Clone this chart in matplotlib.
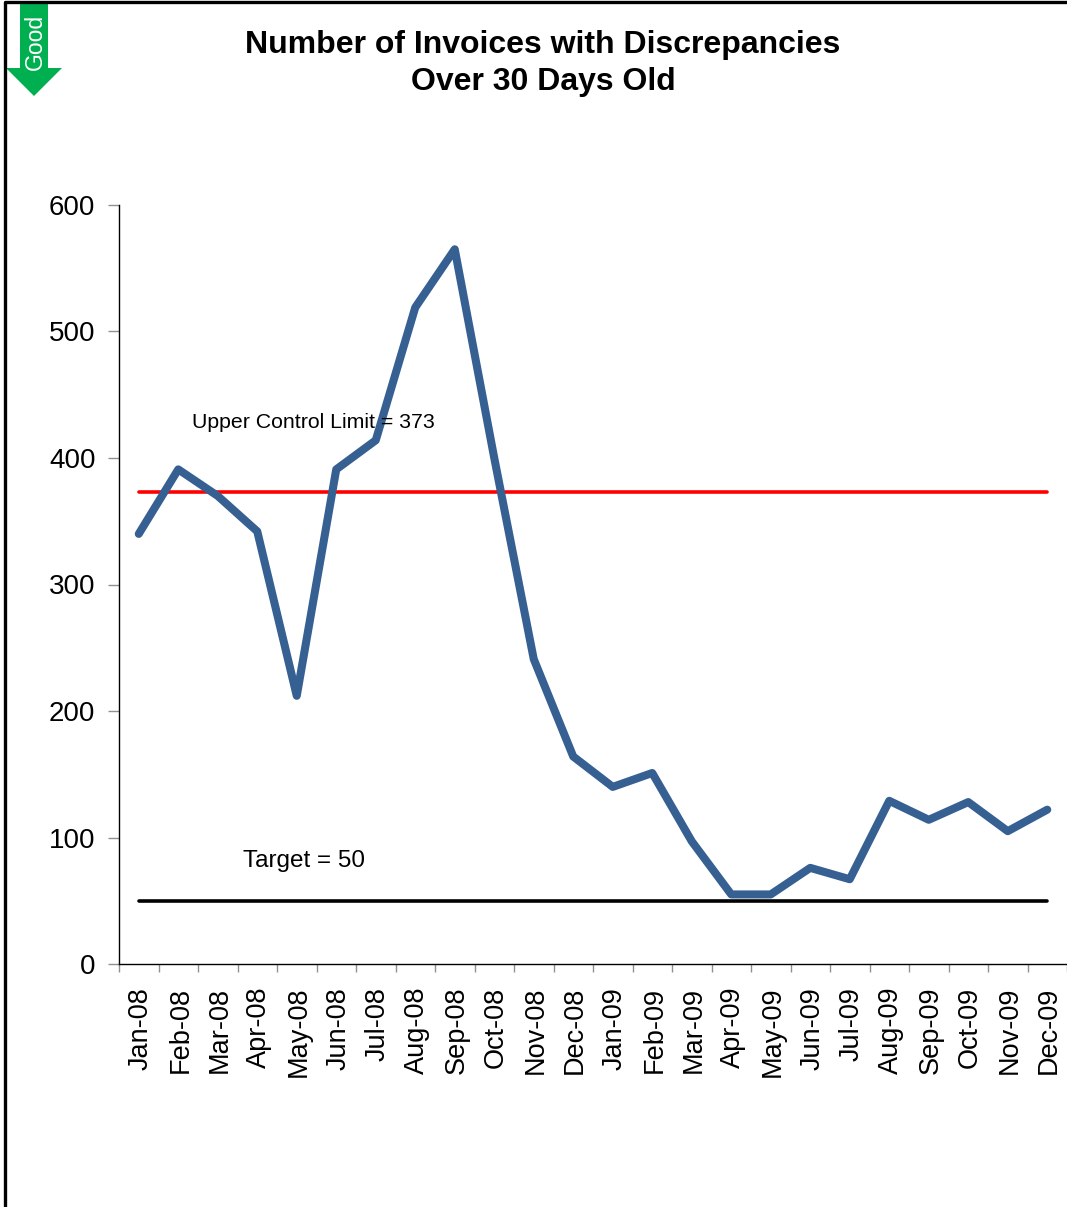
import matplotlib
matplotlib.use('Agg')
import matplotlib.pyplot as plt
from matplotlib.patches import Polygon
from matplotlib.lines import Line2D
from matplotlib.transforms import ScaledTranslation

plt.rcParams['font.family'] = ['Liberation Sans', 'DejaVu Sans']

months = ['Jan-08','Feb-08','Mar-08','Apr-08','May-08','Jun-08','Jul-08','Aug-08','Sep-08','Oct-08','Nov-08','Dec-08',
          'Jan-09','Feb-09','Mar-09','Apr-09','May-09','Jun-09','Jul-09','Aug-09','Sep-09','Oct-09','Nov-09','Dec-09']
invoices = [340,391,370,342,212,391,414,519,565,400,241,164,140,151,97,55,55,76,67,129,114,128,105,122]
ucl = [373]*24
target = [50]*24
yticks = [0,100,200,300,400,500,600]

W,H = 1067,1207
fig = plt.figure(figsize=(W/100,H/100),dpi=100,facecolor='white')
ax = fig.add_axes([119/W,1-964/H,(1067-119)/W,(964-205)/H])
x = list(range(24))
ax.plot(x,ucl,color='#ff0000',lw=2.6,solid_capstyle='round')
ax.plot(x,target,color='#000000',lw=2.6,solid_capstyle='round')
ax.plot(x,invoices,color='#376092',lw=5.8,solid_joinstyle='round',solid_capstyle='round')
ax.set_xlim(-0.5,23.5)
ax.set_ylim(0,600)
ax.set_yticks(yticks)
ax.set_xticks([i-0.5 for i in range(25)])
ax.set_xticklabels([])
ax.set_xticks(x,minor=True)
ax.set_xticklabels(months,minor=True,rotation=90,fontsize=19.5)
ax.tick_params(axis='x',which='minor',length=0,pad=16.5)
shift = ScaledTranslation(2/100,0,fig.dpi_scale_trans)
for lab in ax.get_xticklabels(minor=True):
    lab.set_transform(lab.get_transform()+shift)
ax.tick_params(axis='x',which='major',length=6,width=1,color='#909090')
ax.tick_params(axis='y',length=8,width=1,color='#909090',labelsize=20,pad=9)
for s in ['top','right']:
    ax.spines[s].set_visible(False)
for s in ['left','bottom']:
    ax.spines[s].set_color('#000000')
    ax.spines[s].set_linewidth(1)
def px(xp,yp):
    return (xp/W,1-yp/H)
fig.text(*px(543,45),'Number of Invoices with Discrepancies',ha='center',va='center',fontsize=23,fontweight='bold')
fig.text(*px(543,82),'Over 30 Days Old',ha='center',va='center',fontsize=23,fontweight='bold')
fig.text(*px(313,423),'Upper Control Limit = 373',ha='center',va='center',fontsize=15.3)
fig.text(*px(304,861),'Target = 50',ha='center',va='center',fontsize=17.5)
arrow=[(20,3),(48,3),(48,68),(62,68),(34,96),(6,68),(20,68)]
fig.add_artist(Polygon([px(*p) for p in arrow],closed=True,transform=fig.transFigure,facecolor='#00b050',edgecolor='none'))
fig.text(*px(35,42),'Good',rotation=90,ha='center',va='center',fontsize=16.5,color='white')
fig.add_artist(Line2D([4.5/W,4.5/W,1],[0,1-2/H,1-2/H],transform=fig.transFigure,color='black',lw=2.4))
fig.savefig('out.png',dpi=100)
